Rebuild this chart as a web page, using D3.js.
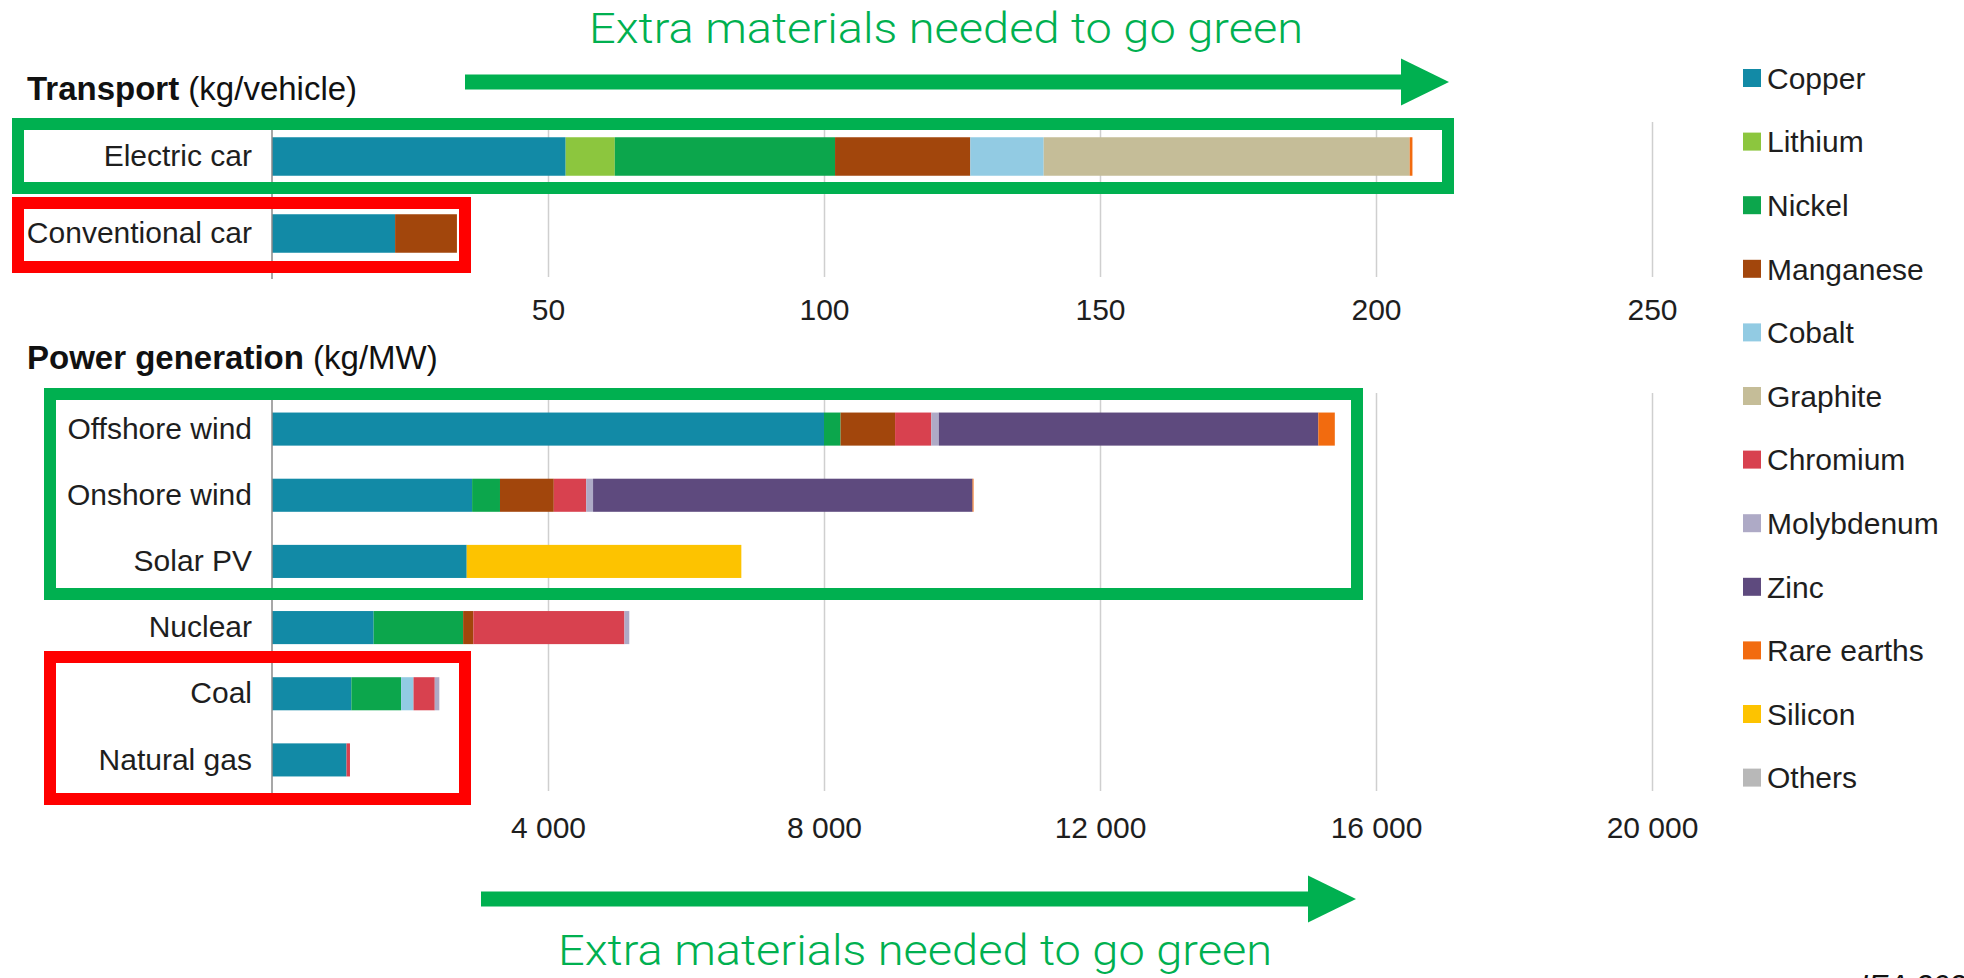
<!DOCTYPE html>
<html lang="en">
<head>
<meta charset="utf-8">
<title>Minerals used in selected clean energy technologies</title>
<script src="https://cdn.jsdelivr.net/npm/d3@7"></script>
<style>
  body { margin: 0; background: #fff; }
  svg { display: block; font-family: "Liberation Sans", Arial, sans-serif; }
</style>
</head>
<body>
<div id="chart"></div>
<script>
// materials, in legend order
var materials = ["Copper", "Lithium", "Nickel", "Manganese", "Cobalt", "Graphite",
                 "Chromium", "Molybdenum", "Zinc", "Rare earths", "Silicon", "Others"];
var colors = ["#128aa6", "#8cc63e", "#0ca64c", "#a2460c", "#92cbe3", "#c5bd98",
              "#d8414f", "#aeaac6", "#5e4a7e", "#f26b0f", "#fdc300", "#b8b8b8"];

// transport, kg per vehicle (one value per material)
var transportCats = ["Electric car", "Conventional car"];
var electricCar     = [53.2, 8.9, 39.9, 24.5, 13.3, 66.3, 0, 0, 0, 0.5, 0, 0];
var conventionalCar = [22.3, 0, 0, 11.2, 0, 0, 0, 0, 0, 0, 0, 0];
var transportTicks  = [50, 100, 150, 200, 250];

// power generation, kg per MW
var powerCats = ["Offshore wind", "Onshore wind", "Solar PV", "Nuclear", "Coal", "Natural gas"];
var offshoreWind = [8000, 0, 240, 790, 0, 0, 525, 109, 5500, 239, 0, 0];
var onshoreWind  = [2900, 0, 404, 780, 0, 0, 470, 99, 5500, 14, 0, 0];
var solarPV      = [2822, 0, 0, 0, 0, 0, 0, 0, 0, 0, 3980, 0];
var nuclear      = [1473, 0, 1297, 148, 0, 0, 2190, 70, 0, 0, 0, 0];
var coal         = [1150, 0, 721, 0, 180, 0, 308, 66, 0, 0, 0, 0];
var naturalGas   = [1080, 0, 0, 0, 0, 0, 50, 0, 0, 0, 0, 0];
var powerTicks   = [4000, 8000, 12000, 16000, 20000];

var note = "Extra materials needed to go green";

var W = 1964, H = 978;
var svg = d3.select("#chart").append("svg")
  .attr("width", W).attr("height", H);

var color = d3.scaleOrdinal().domain(materials).range(colors);
var fmt = d3.formatLocale({decimal: ".", thousands: " ", grouping: [3], currency: ["", ""]}).format(",");

// both panels share the same horizontal extent (250 kg <-> 20 000 kg)
var xT = d3.scaleLinear().domain([0, 250]).range([272, 1652]);
var xP = d3.scaleLinear().domain([0, 20000]).range([272, 1652]);

function rowsFrom(cats, arrays) {
  return cats.map(function(c, i) {
    var r = {cat: c};
    materials.forEach(function(m, j) { r[m] = arrays[i][j]; });
    return r;
  });
}

function panel(title, unit, titleY, cats, arrays, x, ticks, yRange, gridTop, gridBottom, tickPad) {
  var y = d3.scaleBand().domain(cats).range(yRange).paddingInner(0.5).paddingOuter(0.25);
  var g = svg.append("g");

  // gridlines + tick labels
  var ax = g.append("g")
    .attr("transform", "translate(0," + gridBottom + ")")
    .call(d3.axisBottom(x).tickValues(ticks).tickFormat(fmt)
      .tickSize(-(gridBottom - gridTop)).tickPadding(tickPad));
  ax.select(".domain").remove();
  ax.selectAll("line").attr("stroke", "#cfcfcf").attr("stroke-width", 1.5);
  ax.selectAll("text").attr("font-size", 30).attr("fill", "#1e1e1e")
    .attr("font-family", "'Liberation Sans', Arial, sans-serif");

  // stacked bars
  var stacked = d3.stack().keys(materials)(rowsFrom(cats, arrays));
  g.selectAll("g.layer").data(stacked).enter().append("g")
      .attr("class", "layer")
      .attr("fill", function(d) { return color(d.key); })
    .selectAll("rect").data(function(d) { return d; }).enter().append("rect")
      .attr("x", function(d) { return x(d[0]); })
      .attr("y", function(d) { return y(d.data.cat); })
      .attr("width", function(d) { return x(d[1]) - x(d[0]); })
      .attr("height", y.bandwidth());

  // category axis
  var ay = g.append("g")
    .attr("transform", "translate(" + x(0) + ",0)")
    .call(d3.axisLeft(y).tickSize(0).tickPadding(20));
  ay.select(".domain").remove();
  ay.selectAll("text").attr("font-size", 30).attr("fill", "#1e1e1e")
    .attr("font-family", "'Liberation Sans', Arial, sans-serif");
  g.append("line")
    .attr("x1", x(0)).attr("x2", x(0))
    .attr("y1", gridTop).attr("y2", gridBottom + 2)
    .attr("stroke", "#8a8a8a").attr("stroke-width", 1.5);

  // panel title
  var t = svg.append("text").attr("x", 27).attr("y", titleY)
    .attr("font-size", 33).attr("fill", "#111");
  t.append("tspan").attr("font-weight", "bold").text(title);
  t.append("tspan").text(" " + unit);
  return y;
}

panel("Transport", "(kg/vehicle)", 100, transportCats, [electricCar, conventionalCar],
      xT, transportTicks, [118, 272], 122, 277, 22);
panel("Power generation", "(kg/MW)", 369, powerCats,
      [offshoreWind, onshoreWind, solarPV, nuclear, coal, naturalGas],
      xP, powerTicks, [396, 793], 393, 791, 26);

// legend
var leg = svg.append("g").selectAll("g").data(materials).enter().append("g")
  .attr("transform", function(d, i) { return "translate(1743," + (78 + i * 63.6) + ")"; });
leg.append("rect").attr("x", 0).attr("y", -9).attr("width", 18).attr("height", 18)
  .attr("fill", function(d) { return color(d); });
leg.append("text").attr("x", 24).attr("dy", "0.36em")
  .attr("font-size", 30).attr("fill", "#1e1e1e").text(function(d) { return d; });

// annotation boxes
var green = "#00b050", red = "#ff0000";
function box(x, y, w, h, c) {
  svg.append("rect").attr("x", x).attr("y", y).attr("width", w).attr("height", h)
    .attr("fill", "none").attr("stroke", c).attr("stroke-width", 12);
}
box(18, 124, 1430, 64, green);
box(18, 203, 447, 64, red);
box(50, 394, 1307, 200, green);
box(50, 657, 415, 142, red);

// arrows
function arrow(x0, x1, yc) {
  var headW = 48, headH = 47, shaft = 15;
  svg.append("rect").attr("x", x0).attr("y", yc - shaft / 2)
    .attr("width", x1 - headW - x0).attr("height", shaft).attr("fill", green);
  svg.append("path")
    .attr("d", "M" + (x1 - headW) + "," + (yc - headH / 2) + "L" + x1 + "," + yc +
               "L" + (x1 - headW) + "," + (yc + headH / 2) + "Z")
    .attr("fill", green);
}
arrow(465, 1449, 82);
arrow(481, 1356, 899);

// hand-written notes (thin, narrow)
function noteText(xs, yb) {
  svg.append("text").attr("x", xs).attr("y", yb)
    .attr("font-size", 42).attr("fill", green)
    .attr("font-family", "Roboto, 'Noto Sans', sans-serif")
    .attr("font-weight", 300)
    .attr("textLength", 714).attr("lengthAdjust", "spacingAndGlyphs")
    .text(note);
}
noteText(589, 43);
noteText(558, 965);

// source, cut at the page edge as in the original
svg.append("text").attr("x", 1860).attr("y", 995)
  .attr("font-size", 30).attr("font-style", "italic").attr("fill", "#111")
  .text("IEA 2021");
</script>
</body>
</html>
